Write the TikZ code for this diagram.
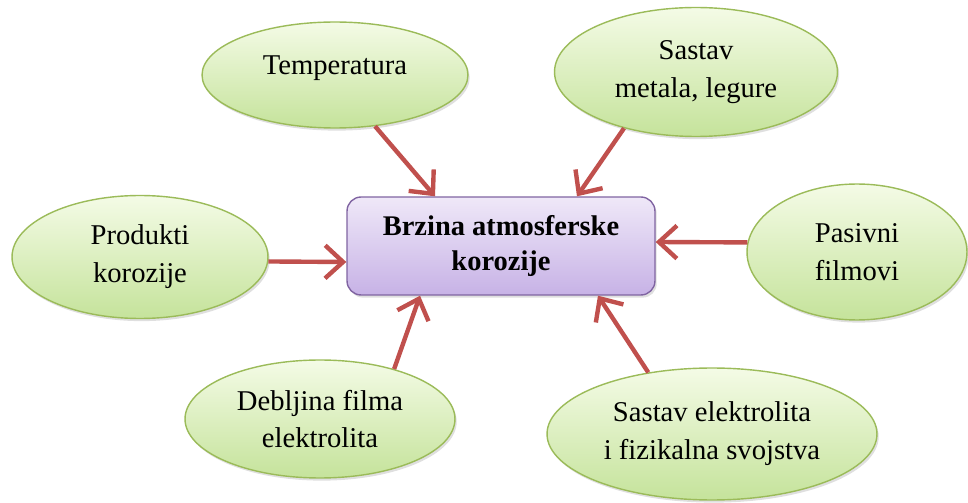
\documentclass[tikz,border=0pt]{standalone}
\usepackage{fontspec}
\setmainfont{Liberation Serif}
\usetikzlibrary{shapes.geometric,arrows.meta,shadows}
\definecolor{rubzeleni}{HTML}{9BBB59}
\definecolor{svijetlozeleni}{HTML}{F4FBE6}
\definecolor{zeleni}{HTML}{C5E39B}
\definecolor{rubljub}{HTML}{8064A2}
\definecolor{svijetloljub}{HTML}{EFE8F8}
\definecolor{ljub}{HTML}{C7B2E6}
\definecolor{crveni}{HTML}{C0504D}
\begin{document}
\begin{tikzpicture}[x=0.02cm,y=-0.02cm,
	faktor/.style={ellipse,draw=rubzeleni,line width=0.8pt,top color=svijetlozeleni,bottom color=zeleni,
		align=center,inner sep=0pt,font=\fontsize{16.3}{21.5}\selectfont,
		drop shadow={shadow xshift=1pt,shadow yshift=-1.5pt,opacity=0.25}},
	glavni/.style={rectangle,rounded corners=8pt,draw=rubljub,line width=0.8pt,top color=svijetloljub,bottom color=ljub,
		align=center,minimum width=6.16cm,minimum height=1.96cm,font=\fontsize{16.2}{19.5}\selectfont\bfseries,
		drop shadow={shadow xshift=1pt,shadow yshift=-1.5pt,opacity=0.25}},
	strelica/.style={draw=crveni,line width=2.5pt,-{Straight Barb[length=3.6mm,width=6.6mm]}}]
	\useasboundingbox (0,0) rectangle (968,503);
	% okolni faktori
	\node[faktor,minimum width=5.32cm,minimum height=2.12cm] (temp) at (335,75) {Temperatura\\[-10pt]~};
	\node[faktor,minimum width=5.66cm,minimum height=2.58cm] (metal) at (696,72) {Sastav\\metala, legure};
	\node[faktor,minimum width=5.12cm,minimum height=2.46cm] (prod) at (140,257) {Produkti\\korozije};
	\node[faktor,minimum width=4.4cm,minimum height=2.72cm] (pasiv) at (857,252) {Pasivni\\filmovi};
	\node[faktor,minimum width=5.4cm,minimum height=2.36cm] (debl) at (320,419) {Debljina filma\\elektrolita};
	\node[faktor,minimum width=6.6cm,minimum height=2.64cm] (elek) at (712,434) {Sastav elektrolita\\i fizikalna svojstva};
	% sredina
	\node[glavni] (brzina) at (501,246) {Brzina atmosferske\\korozije};
	% strelice
	\draw[strelica] (temp.-52) -- ([xshift=-1.32cm]brzina.north);
	\draw[strelica] (metal.-142) -- ([xshift=1.52cm]brzina.north);
	\draw[strelica] (prod.-2) -- ([yshift=-0.32cm]brzina.west);
	\draw[strelica] (pasiv.175) -- ([yshift=0.08cm]brzina.east);
	\draw[strelica] (debl.34) -- ([xshift=-1.62cm]brzina.south);
	\draw[strelica] (elek.136) -- ([xshift=1.94cm]brzina.south);
\end{tikzpicture}
\end{document}
